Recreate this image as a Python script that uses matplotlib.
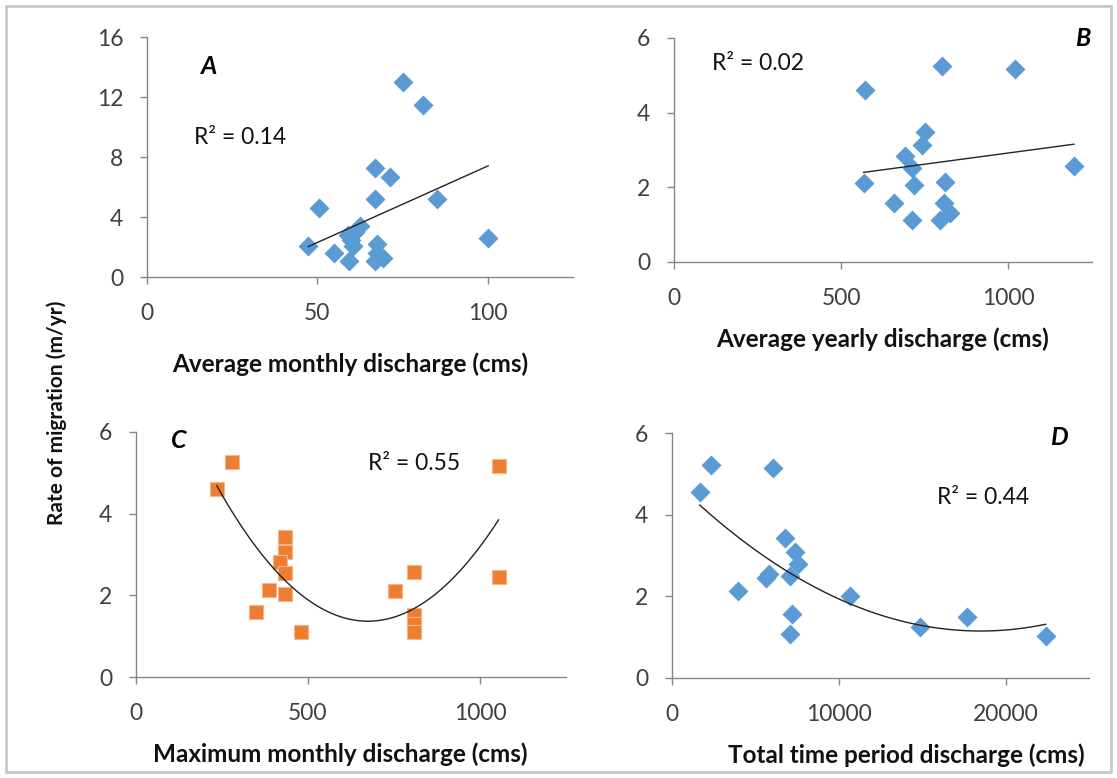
import matplotlib
matplotlib.use("Agg")
import matplotlib.pyplot as plt
import numpy as np
from matplotlib.patches import Rectangle

plt.rcParams["font.family"] = ["Lato", "DejaVu Sans"]

# Panel A: average monthly discharge vs rate
a_x = [47.3, 50.4, 54.8, 59.2, 59.0, 60.0, 60.5, 61.0, 62.5, 66.9, 67.5, 67.5, 69.3,
       66.9, 66.9, 71.3, 75.2, 81.1, 85.2, 100.1]
a_y = [2.1, 4.6, 1.6, 1.05, 2.8, 2.5, 2.1, 3.0, 3.4, 1.1, 2.2, 1.6, 1.3,
       5.2, 7.25, 6.65, 13.0, 11.5, 5.2, 2.6]
a_fit = [0.102, -2.80]

# Panel B: average yearly discharge
b_x = [572, 801, 1019, 1196, 567, 751, 741, 692, 711, 717, 809, 657, 711, 806, 796, 826]
b_y = [4.62, 5.24, 5.18, 2.57, 2.12, 3.47, 3.14, 2.83, 2.51, 2.06, 2.15, 1.59, 1.12,
       1.57, 1.12, 1.30]
b_fit = [0.0012, 1.72]

# Panel C: maximum monthly discharge
c_x = [235, 280, 1054, 1054, 809, 753, 809, 809, 809, 432, 432, 418, 432, 432, 387, 350, 481]
c_y = [4.60, 5.27, 5.16, 2.46, 2.57, 2.11, 1.52, 1.31, 1.09, 3.44, 3.07, 2.82, 2.54,
       2.03, 2.12, 1.58, 1.09]
c_fit = [1.72e-5, -0.02319, 9.183]

# Panel D: total time period discharge
d_x = [1662, 2362, 6060, 3960, 5660, 5800, 6760, 7350, 7550, 7080, 7210, 7060, 10650,
       14850, 17700, 22400]
d_y = [4.56, 5.22, 5.15, 2.12, 2.46, 2.54, 3.42, 3.08, 2.79, 2.50, 1.57, 1.08, 2.01,
       1.25, 1.49, 1.04]
d_fit = [1.088e-8, -4.0256e-4, 4.874]

W, H = 1117, 778
fig = plt.figure(figsize=(W / 100, H / 100), dpi=100)

def px_axes(l, t, r, b):
    return fig.add_axes([l / W, 1 - b / H, (r - l) / W, (b - t) / H])

blue = "#5B9BD5"
orange = "#ED7D31"
grey = "#868686"
txt = "#404040"

panels = [
    dict(box=(147, 37, 573, 277), x=a_x, y=a_y, fit=a_fit, m="D", c=blue,
         xlim=125, xt=[0, 50, 100], ylim=16, yt=[0, 4, 8, 12, 16],
         xlabel="Average monthly discharge (cms)", lp=20, lx=0.477,
         letter="A", lpos=(209, 67), r2="R² = 0.14", rpos=(194, 138)),
    dict(box=(674, 38, 1092, 262), x=b_x, y=b_y, fit=b_fit, m="D", c=blue,
         xlim=1250, xt=[0, 500, 1000], ylim=6, yt=[0, 2, 4, 6],
         xlabel="Average yearly discharge (cms)", lp=13, lx=0.498,
         letter="B", lpos=(1083, 38), r2="R² = 0.02", rpos=(712, 63)),
    dict(box=(136, 432, 566, 677), x=c_x, y=c_y, fit=c_fit, m="s", c=orange,
         xlim=1250, xt=[0, 500, 1000], ylim=6, yt=[0, 2, 4, 6],
         xlabel="Maximum monthly discharge (cms)", lp=13, lx=0.474,
         letter="C", lpos=(179, 440), r2="R² = 0.55", rpos=(368, 463)),
    dict(box=(672, 433, 1089, 678), x=d_x, y=d_y, fit=d_fit, m="D", c=blue,
         xlim=25000, xt=[0, 10000, 20000], ylim=6, yt=[0, 2, 4, 6],
         xlabel="Total time period discharge (cms)", lp=13, lx=0.561,
         letter="D", lpos=(1059, 437), r2="R² = 0.44", rpos=(937, 497)),
]

for p in panels:
    ax = px_axes(*p["box"])
    if p["m"] == "D":
        ax.plot(p["x"], p["y"], "D", color=p["c"], markersize=10.5,
                markeredgecolor="none", zorder=3)
    else:
        ax.plot(p["x"], p["y"], "s", color=p["c"], markersize=10.5,
                markeredgecolor="#F6B48A", markeredgewidth=0.8, zorder=3)
    xs = np.linspace(min(p["x"]), max(p["x"]), 200)
    ax.plot(xs, np.polyval(p["fit"], xs), color="#222222", linewidth=1.0, zorder=4)

    ax.set_xlim(0, p["xlim"])
    ax.set_ylim(0, p["ylim"])
    ax.set_xticks(p["xt"])
    ax.set_yticks(p["yt"])
    for s in ["top", "right"]:
        ax.spines[s].set_visible(False)
    for s in ["left", "bottom"]:
        ax.spines[s].set_color(grey)
        ax.spines[s].set_linewidth(1.0)
    ax.tick_params(direction="out", length=5, width=1, color=grey,
                   labelcolor=txt, labelsize=16.5)
    ax.tick_params(axis="x", pad=14)
    ax.tick_params(axis="y", pad=12)
    ax.set_xlabel(p["xlabel"], fontsize=17.5, fontweight="bold", color="#111111",
                  labelpad=p["lp"])
    ax.xaxis.label.set_x(p["lx"])

    fig.text(p["lpos"][0] / W, 1 - p["lpos"][1] / H, p["letter"], fontsize=18,
             fontweight="bold", fontstyle="italic", ha="center", va="center")
    fig.text(p["rpos"][0] / W, 1 - p["rpos"][1] / H, p["r2"], fontsize=16.5,
             color="#111111", ha="left", va="center")

fig.text(57 / W, 1 - 413 / H, "Rate of migration (m/yr)", rotation=90,
         fontsize=15, fontweight="bold", color="#111111", ha="center", va="center")

fig.patches.append(Rectangle((6 / W, 6 / H), 1 - 12 / W, 1 - 12 / H,
                             transform=fig.transFigure, fill=False,
                             edgecolor="#C8C8C8", linewidth=2))

fig.savefig("out.png", dpi=100)
